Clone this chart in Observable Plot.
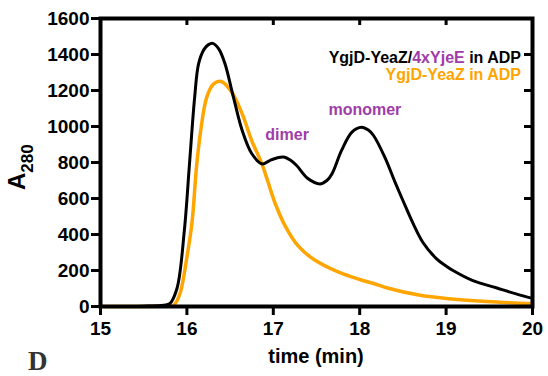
<!DOCTYPE html>
<html><head><meta charset="utf-8">
<script src="https://cdn.jsdelivr.net/npm/d3@7"></script>
<script src="https://cdn.jsdelivr.net/npm/@observablehq/plot@0.6"></script>
<style>body{margin:0;background:#fff}</style>
</head><body><div id="chart"></div>
<script>
// YgjD-YeaZ/4xYjeE in ADP (black)
const blackTime = [15.0,15.5,15.7,15.8,15.885,15.97,16.03,16.09,16.135,16.2,16.25,16.3,16.37,16.44,16.54,16.64,16.75,16.87,16.96,17.04,17.12,17.2,17.27,17.4,17.54,17.62,17.68,17.79,17.91,18.02,18.1,18.16,18.29,18.41,18.5,18.62,18.73,18.89,19.0,19.08,19.31,19.58,19.81,20.0];
const blackA280 = [0,2,6,15,100,420,793,1163,1348,1430,1455,1462,1430,1350,1160,978,850,792,811,825,830,812,783,711,681,700,738,867,969,996,980,950,830,690,589,459,357,265,225,200,144,104,70,45];
// YgjD-YeaZ in ADP (orange)
const orangeTime = [15.0,15.7,15.8,15.85,15.92,16.0,16.06,16.11,16.155,16.23,16.31,16.4,16.52,16.64,16.75,16.87,16.94,17.02,17.14,17.29,17.48,17.75,18.0,18.16,18.31,18.7,19.0,19.47,20.0];
const orangeA280 = [0,1,3,8,72,274,470,770,960,1163,1237,1250,1190,1070,922,790,690,575,445,335,258,192,150,128,104,62,45,28,15];
// annotations
const noteText = ["dimer","monomer"];
const noteTime = [17.16, 18.06];
const noteA280 = [954, 1093];
// ticks
const xTicks = [15,16,17,18,19,20];
const yTicks = [0,200,400,600,800,1000,1200,1400,1600];
const topTicks = [16,17,18,19];
const rightTicks = [200,400,600,800,1000,1200,1400];

const ORANGE = "#FFA500", PURPLE = "#A03CA8";
const FONT = "'Liberation Sans', Arial, sans-serif";

const black = blackTime.map((t,i)=>({t, a: blackA280[i]}));
const orange = orangeTime.map((t,i)=>({t, a: orangeA280[i]}));
const notes = noteText.map((s,i)=>({s, t: noteTime[i], a: noteA280[i]}));
const plain = d => String(d);

const plot = Plot.plot({
  width: 548, height: 376,
  marginLeft: 100, marginRight: 16, marginTop: 18, marginBottom: 70,
  style: {fontFamily: FONT, fontWeight: "bold", color: "black", background: "white"},
  x: {domain: [15, 20]},
  y: {domain: [0, 1600]},
  marks: [
    Plot.axisX({ticks: xTicks, tickFormat: plain, tickSize: 9, tickPadding: 6, strokeWidth: 3, fontSize: 19, label: null}),
    Plot.axisY({ticks: yTicks, tickFormat: plain, tickSize: 9, tickPadding: 2, strokeWidth: 3, fontSize: 19, label: null}),
    Plot.axisX({ticks: topTicks, anchor: "bottom", frameAnchor: "top", tickSize: 7, strokeWidth: 3, tickFormat: () => "", label: null}),
    Plot.axisY({ticks: rightTicks, anchor: "left", frameAnchor: "right", tickSize: 8, strokeWidth: 3, tickFormat: () => "", label: null}),
    Plot.line(orange, {x: "t", y: "a", stroke: ORANGE, strokeWidth: 3.5, curve: "catmull-rom"}),
    Plot.line(black, {x: "t", y: "a", stroke: "black", strokeWidth: 3, curve: "catmull-rom"}),
    Plot.text(notes, {x: "t", y: "a", text: "s", fill: PURPLE, fontSize: 16, fontWeight: "bold"}),
    Plot.frame({stroke: "black", strokeWidth: 4})
  ]
});
document.getElementById("chart").append(plot);

const svg = d3.select(plot);
const xs = plot.scale("x"), ys = plot.scale("y");
const x0 = xs.apply(15), x1 = xs.apply(20), yTop = ys.apply(1600), yBot = ys.apply(0);

// legend
const l1 = svg.append("text").attr("x", x1 - 11).attr("y", yTop + 45)
  .attr("text-anchor", "end").attr("font-size", 16).attr("font-weight", "bold").attr("font-family", FONT);
l1.append("tspan").attr("fill", "black").text("YgjD-YeaZ/");
l1.append("tspan").attr("fill", PURPLE).text("4xYjeE");
l1.append("tspan").attr("fill", "black").text(" in ADP");
svg.append("text").attr("x", x1 - 11).attr("y", yTop + 62)
  .attr("text-anchor", "end").attr("font-size", 16).attr("font-weight", "bold").attr("font-family", FONT)
  .attr("fill", ORANGE).text("YgjD-YeaZ in ADP");

// x label
svg.append("text").attr("x", (x0 + x1) / 2).attr("y", yBot + 57)
  .attr("text-anchor", "middle").attr("font-size", 20).attr("font-weight", "bold").attr("font-family", FONT)
  .text("time (min)");

// y label A280
const yl = svg.append("text").attr("transform", `translate(${x0 - 75},${(yTop + yBot) / 2 + 28}) rotate(-90)`)
  .attr("text-anchor", "start")
  .attr("font-weight", "bold").attr("font-family", FONT).attr("font-size", 24);
yl.append("tspan").text("A");
yl.append("tspan").attr("dy", 8).attr("font-size", 17).text("280");

// panel letter
svg.append("text").attr("x", x0 - 72).attr("y", yBot + 64).attr("text-anchor", "start")
  .attr("font-size", 27).attr("font-weight", "bold").attr("font-family", "'Liberation Serif', 'Times New Roman', serif")
  .attr("fill", "#333").text("D");
</script>
</body></html>
